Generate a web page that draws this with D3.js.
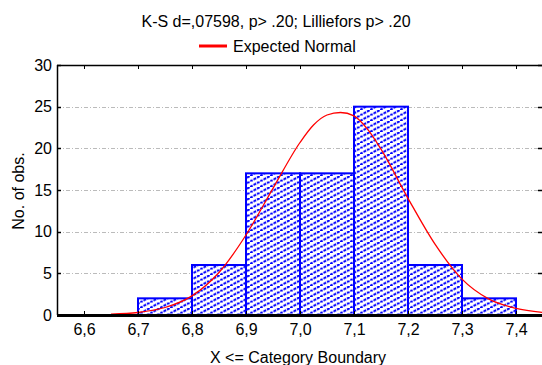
<!DOCTYPE html>
<html><head><meta charset="utf-8">
<script src="https://cdn.jsdelivr.net/npm/d3@7"></script>
<style>body{margin:0;background:#fff}svg{display:block}text{font-family:"Liberation Sans",Arial,sans-serif;fill:#000}</style>
</head><body><svg id="c" width="542" height="365"></svg>
<script>
// Histogram bins (lower edge, upper edge, count)
const binLower = [6.6, 6.7, 6.8, 6.9, 7.0, 7.1, 7.2, 7.3];
const binUpper = [6.7, 6.8, 6.9, 7.0, 7.1, 7.2, 7.3, 7.4];
const counts   = [0, 2, 6, 17, 17, 25, 6, 2];
// Expected normal curve
const curveX = [6.65, 6.70, 6.75, 6.80, 6.85, 6.90, 6.95, 7.00, 7.025, 7.05, 7.075, 7.10, 7.125, 7.15, 7.20, 7.25, 7.30, 7.35, 7.40, 7.45];
const curveY = [0.1, 0.3, 0.9, 2.3, 5.1, 9.6, 15.2, 20.7, 22.8, 24.0, 24.3, 23.9, 22.3, 19.9, 14.0, 8.5, 4.3, 1.9, 0.8, 0.3];
const xTicks = [6.6, 6.7, 6.8, 6.9, 7.0, 7.1, 7.2, 7.3, 7.4];
const yTicks = [0, 5, 10, 15, 20, 25, 30];
const titleText = "K-S d=,07598, p> .20; Lilliefors p> .20";
const legendText = "Expected Normal";
const xLabel = "X <= Category Boundary";
const yLabel = "No. of obs.";

const FS = 16;
const svg = d3.select("#c");
const L = 57, R = 543, T = 65, B = 315;
const x = d3.scaleLinear().domain([6.55, 7.45]).range([L, R]);
const y = d3.scaleLinear().domain([0, 30]).range([B, T]);

// hatch pattern
const defs = svg.append("defs");
const pat = defs.append("pattern").attr("id", "hatch").attr("patternUnits", "userSpaceOnUse")
  .attr("width", 10).attr("height", 5.5);
pat.append("rect").attr("width", 10).attr("height", 5.5).attr("fill", "#fff");
pat.append("line").attr("x1", 0).attr("y1", 5.5).attr("x2", 10).attr("y2", 0)
  .attr("stroke", "#0000ff").attr("stroke-width", 2).attr("stroke-dasharray", "3,1");

// gridlines
svg.append("g").selectAll("line").data(yTicks.filter(d => d > 0 && d < 30)).join("line")
  .attr("x1", L).attr("x2", 538).attr("y1", d => Math.round(y(d)) + 0.5).attr("y2", d => Math.round(y(d)) + 0.5)
  .attr("stroke", "#bbbbbb").attr("stroke-width", 1).attr("stroke-dasharray", "4,2,1,2");

// bars
svg.append("g").selectAll("rect").data(counts.map((c, i) => ({lo: binLower[i], hi: binUpper[i], c})).filter(d => d.c > 0)).join("rect")
  .attr("x", d => x(d.lo)).attr("width", d => x(d.hi) - x(d.lo))
  .attr("y", d => y(d.c)).attr("height", d => y(0) - y(d.c))
  .attr("fill", "url(#hatch)").attr("stroke", "#0000ff").attr("stroke-width", 2);

// curve
const line = d3.line().x(d => x(d[0])).y(d => y(d[1])).curve(d3.curveMonotoneX);
svg.append("path").datum(curveX.map((v, i) => [v, curveY[i]])).attr("d", line)
  .attr("fill", "none").attr("stroke", "#ff0000").attr("stroke-width", 1.3);

// frame
svg.append("line").attr("x1", L).attr("x2", R).attr("y1", T + 0.5).attr("y2", T + 0.5).attr("stroke", "#000").attr("stroke-width", 1.5);
svg.append("line").attr("x1", L + 0.5).attr("x2", L + 0.5).attr("y1", T).attr("y2", B).attr("stroke", "#000").attr("stroke-width", 1.5);

// x axis
const xAxis = d3.axisBottom(x).tickValues(xTicks).tickSize(0).tickPadding(9)
  .tickFormat(d => d3.format(".1f")(d).replace(".", ","));
const gx = svg.append("g").attr("transform", `translate(0,${B})`).call(xAxis);
gx.select(".domain").remove();
gx.selectAll("text").attr("font-size", FS).attr("font-family", "Liberation Sans, Arial, sans-serif");
svg.append("line").attr("x1", L).attr("x2", R).attr("y1", B + 0.5).attr("y2", B + 0.5).attr("stroke", "#000").attr("stroke-width", 3);
// inner ticks bottom and top
svg.append("g").selectAll("line").data(xTicks).join("line")
  .attr("x1", d => Math.round(x(d)) + 0.5).attr("x2", d => Math.round(x(d)) + 0.5).attr("y1", B - 4).attr("y2", B).attr("stroke", "#000");
svg.append("g").selectAll("line").data(xTicks).join("line")
  .attr("x1", d => Math.round(x(d)) + 0.5).attr("x2", d => Math.round(x(d)) + 0.5).attr("y1", T).attr("y2", T + 4).attr("stroke", "#000");

// y axis
const yAxis = d3.axisLeft(y).tickValues(yTicks).tickSize(0).tickPadding(5);
const gy = svg.append("g").attr("transform", `translate(${L},0)`).call(yAxis);
gy.select(".domain").remove();
gy.selectAll("text").attr("font-size", FS).attr("font-family", "Liberation Sans, Arial, sans-serif");
svg.append("g").selectAll("line").data(yTicks).join("line")
  .attr("x1", L).attr("x2", L + 4).attr("y1", d => Math.round(y(d)) + 0.5).attr("y2", d => Math.round(y(d)) + 0.5).attr("stroke", "#000").attr("stroke-width", 1.5);
svg.append("g").selectAll("line").data(yTicks).join("line")
  .attr("x1", 538).attr("x2", 542).attr("y1", d => Math.round(y(d)) + 0.5).attr("y2", d => Math.round(y(d)) + 0.5).attr("stroke", "#000").attr("stroke-width", 1.5);

// titles
svg.append("text").attr("x", 276).attr("y", 27).attr("text-anchor", "middle").attr("font-size", FS).text(titleText);
svg.append("line").attr("x1", 199).attr("x2", 227).attr("y1", 46).attr("y2", 46).attr("stroke", "#ff0000").attr("stroke-width", 3);
svg.append("text").attr("x", 233).attr("y", 52).attr("font-size", FS).text(legendText);
svg.append("text").attr("x", 298).attr("y", 363).attr("text-anchor", "middle").attr("font-size", FS).text(xLabel);
svg.append("text").attr("transform", "translate(24,191) rotate(-90)").attr("text-anchor", "middle").attr("font-size", FS).text(yLabel);
</script></body></html>
